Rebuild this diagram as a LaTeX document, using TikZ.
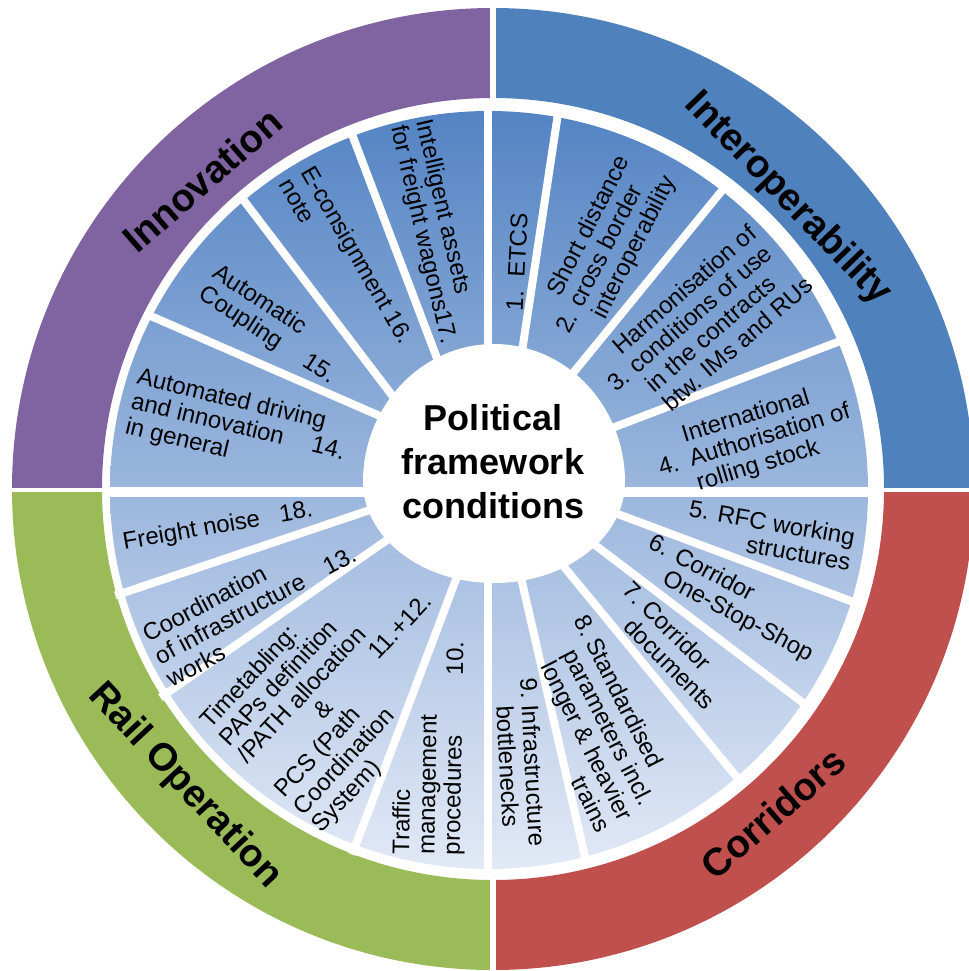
\documentclass[tikz,border=0pt]{standalone}
\usepackage{fontspec}
\setmainfont{Liberation Sans}
\usepackage{tikz}

\definecolor{innovcol}{RGB}{128,100,162}
\definecolor{interopcol}{RGB}{79,129,189}
\definecolor{corrcol}{RGB}{192,80,77}
\definecolor{railcol}{RGB}{155,187,89}
\definecolor{ringtop}{RGB}{84,132,196}
\definecolor{ringmid}{RGB}{190,208,236}
\definecolor{ringbot}{RGB}{226,233,246}

\tikzset{
  itemtext/.style={inner sep=0.75pt, font=\fontsize{18}{19}\selectfont, align=left},
  quadtitle/.style={inner sep=0.75pt, font=\fontsize{29}{30}\selectfont\bfseries},
  gapline/.style={white, line width=6pt, shorten <=-6pt, shorten >=-15pt},
}

\begin{document}
\begin{tikzpicture}[x=0.75pt,y=0.75pt,yscale=-1,xscale=1]
\useasboundingbox (0,0) rectangle (969,971);

%Outer ring quadrants
\begin{scope}[shift={(493,489)}]
\fill[innovcol] (180:481) arc[start angle=180,end angle=270,radius=481] -- (270:391) arc[start angle=270,end angle=180,radius=391] -- cycle;
\fill[interopcol] (270:481) arc[start angle=270,end angle=360,radius=481] -- (0:391) arc[start angle=360,end angle=270,radius=391] -- cycle;
\fill[corrcol] (0:481) arc[start angle=0,end angle=90,radius=481] -- (90:391) arc[start angle=90,end angle=0,radius=391] -- cycle;
\fill[railcol] (90:481) arc[start angle=90,end angle=180,radius=481] -- (180:391) arc[start angle=180,end angle=90,radius=391] -- cycle;
\end{scope}
%Outer ring gaps
\draw[white, line width=4pt] (493,0) -- (493,971);
\draw[white, line width=3pt] (0,490) -- (969,490);

%Inner ring
\shade[top color=ringtop, middle color=ringmid, bottom color=ringbot] (489,490) circle[radius=379];

%Inner ring gaps
\draw[white, line width=6pt] (488,105) -- (488,875);
\draw[white, line width=7.5pt] (105,492) -- (875,492);
\draw[gapline] (557,120) -- (523,345);
\draw[gapline] (720,193) -- (578,367);
\draw[gapline] (835,343) -- (620,425);
\draw[gapline] (848,600) -- (615,513);
\draw[gapline] (802,702) -- (595,545);
\draw[gapline] (735,775) -- (565,568);
\draw[gapline] (585,857) -- (522,582);
\draw[gapline] (355,847) -- (455,582);
\draw[gapline] (167,693) -- (387,540);
\draw[gapline] (123,593) -- (370,510);
\draw[gapline] (153,317) -- (373,413);
\draw[gapline] (245,202) -- (388,390);
\draw[gapline] (353,137) -- (435,353);

%Centre
\fill[white] (625,482) arc[start angle=0,end angle=-180,x radius=131,y radius=138] arc[start angle=180,end angle=0,x radius=131,y radius=101] -- cycle;

% Text Node
\draw (493,462) node (centre) [inner sep=0.75pt, font=\fontsize{27}{33}\selectfont\bfseries, align=center] {Political\\framework\\conditions};

% Quadrant titles
\draw (202,180) node (innov) [quadtitle, rotate=41] {Innovation};
\draw (788,199) node (interop) [quadtitle, rotate=-46] {Interoperability};
\draw (773,813) node (corr) [quadtitle, rotate=41] {Corridors};
\draw (185,786) node (railop) [quadtitle, rotate=-47] {Rail Operation};

% Interoperability items
\draw (517,262) node (etcs) [itemtext, rotate=87] {1.\hspace{10pt}ETCS};
\draw (607,250) node (crossb) [itemtext, rotate=63] {\begin{tabular}{@{}l@{\hspace{7pt}}l@{}} & Short distance\\ 2. & cross border\\ & interoperability\end{tabular}};
\draw (704,327) node (harmon) [itemtext, rotate=41] {\begin{tabular}{@{}l@{\hspace{6pt}}l@{}} & Harmonisation of\\ 3. & conditions of use\\ & in the contracts\\ & btw. IMs and RUs\end{tabular}};
\draw (755,442) node (authst) [itemtext, rotate=17] {\begin{tabular}{@{}l@{\hspace{9pt}}l@{}} & International\\ 4. & Authorisation of\\ & rolling stock\end{tabular}};

% Corridor items
\draw (770,535) node (rfc) [itemtext, align=right, rotate=-10] {5. RFC working\\structures};
\draw (730,600) node (oss) [itemtext, rotate=-28] {\begin{tabular}{@{}l@{\hspace{7pt}}l@{}} 6. & Corridor\\ & One-Stop-Shop\end{tabular}};
\draw (667,648) node (cdocs) [itemtext, rotate=-45] {\begin{tabular}{@{}l@{\hspace{5pt}}l@{}} 7. & Corridor\\ & documents\end{tabular}};
\draw (590,725) node (stdpar) [itemtext, rotate=-63] {\begin{tabular}{@{}l@{\hspace{4pt}}l@{}} 8. & Standardised\\ & parameters incl.\\ & longer \& heavier\\ & \hfill trains\end{tabular}};
\draw (517,763) node (bneck) [itemtext, rotate=-87] {\begin{tabular}{@{}l@{\hspace{5pt}}l@{}} 9. & Infrastructure\\ & bottlenecks\end{tabular}};

% Rail operation items
\draw (430,748) node (traffic) [itemtext, rotate=89] {Traffic\\management\\procedures\hspace{45pt}10.};
\draw (345,688) node (ttable) [itemtext, rotate=47] {Timetabling:\\PAPs definition\\/PATH allocation\\\hspace{63pt}\&\hspace{49pt}11.+12.\\PCS (Path\\Coordination\\System)};
\draw (255,605) node (coord) [itemtext, rotate=28] {Coordination\\of infrastructure\hspace{18pt}13.\\works};
\draw (218,527) node (noise) [itemtext, rotate=10] {Freight noise\hspace{15pt}18.};

% Innovation items
\draw (238,428) node (autodr) [itemtext, rotate=-13.5] {Automated driving\\and innovation\hspace{22pt}14.\\in general};
\draw (274,325) node (coupl) [itemtext, rotate=-33] {Automatic\\Coupling\hspace{22pt}15.};
\draw (347,261) node (econs) [itemtext, rotate=-60] {E-consignment 16.\\note};
\draw (435,232) node (assets) [itemtext, rotate=-77] {Intelligent assets\\for freight wagons17.};

\end{tikzpicture}
\end{document}
